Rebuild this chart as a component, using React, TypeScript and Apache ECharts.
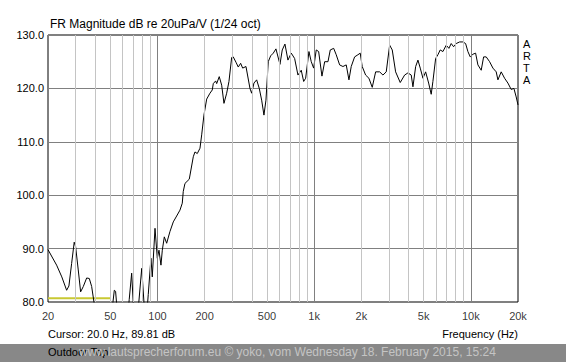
import React, { useEffect, useRef } from "react";
import * as echarts from "echarts";

const freqs = [
  20, 22.7, 24.5, 26.3, 27.2, 28.3, 29.4, 30.0, 31.2, 32.3, 33.6, 35.3, 36.7, 38.0, 39.3,
  41, 45, 49, 51.5, 53, 54, 56.2, 60, 64, 66, 68.4, 71.1, 74, 76, 79.3, 83.2, 85.5, 87.3,
  90.8, 92.6, 96.4, 99.7, 102.2, 105.2, 107.3, 110.5, 114.4, 120.1, 126.1, 132.5, 139.1,
  143.9, 146, 149.7, 159.5, 169.2, 173.4, 179.4, 186.7, 191.4, 197.9, 206, 216.2, 223.6,
  227, 235.1, 238.6, 247.8, 256.8, 265.6, 276.4, 285.8, 297.4, 304.4, 316.8, 327.7, 339.4,
  349.6, 367, 389.2, 399, 412.7, 429.4, 446.2, 462.2, 478, 492.3, 509.2, 527.6, 548.2,
  570.2, 604.8, 625.6, 650.8, 680.2, 714, 750.4, 787.8, 827, 856.8, 882.2, 926, 958, 992.2,
  1031, 1068, 1121, 1167, 1225, 1267, 1332, 1383, 1454, 1526, 1602, 1667, 1724, 1812, 1902,
  1968, 2026, 2130, 2236, 2348, 2468, 2618, 2748, 2884, 3032, 3150, 3310, 3542, 3778, 3966,
  4164, 4270, 4444, 4596, 4754, 4946, 5146, 5378, 5586, 5726, 5960, 6164, 6376, 6634, 6964,
  7244, 7494, 7762, 8064, 8480, 8900, 9260, 9578, 9910, 10310, 10726, 11096, 11648, 12066,
  12536, 13176, 13832, 14520, 14886, 15626, 16426, 17242, 18098, 18828, 19478, 20000,
];

const magnitudeDb = [
  89.8, 86.9, 84.7, 82.2, 83.0, 87.2, 91.2, 90.4, 86.0, 81.9, 82.9, 84.5, 84.4, 82.9, 80.0,
  76, 72, 74, 79, 82.2, 82.0, 76, 72, 76, 80.5, 85.4, 76, 77, 80, 86.3, 77, 78, 81.4,
  88.2, 84.7, 93.8, 88.2, 89.7, 86.9, 89.7, 92.2, 91.0, 93.2, 95.0, 96.1, 97.2,
  98.5, 100.7, 102.2, 103.0, 107.2, 108.1, 107.8, 108.8, 111.3, 115.0, 118.0, 119.1, 119.7,
  120.9, 121.4, 120.9, 122.2, 120.6, 117.2, 119.1, 121.3, 125.8, 125.9, 124.9, 124.0, 124.7,
  123.8, 124.1, 120.0, 119.1, 121.0, 121.6, 120.0, 117.8, 115.0, 117.8, 125.0, 126.1, 126.6,
  127.4, 124.5, 127.2, 128.3, 125.3, 126.6, 125.6, 122.5, 123.4, 121.3, 121.9, 126.9, 125.0, 123.8,
  127.2, 126.9, 122.3, 125.0, 125.0, 127.2, 127.5, 126.3, 124.4, 124.1, 124.4, 121.6, 124.1, 125.9, 126.3,
  126.6, 124.1, 122.5, 121.9, 120.2, 123.1, 123.1, 122.5, 123.1, 128.1, 127.2, 123.1, 121.1, 122.5, 122.9,
  122.5, 120.3, 124.1, 125.3, 123.8, 121.9, 123.1, 121.0, 118.9, 121.3, 125.6, 126.3, 127.2, 126.9, 128.1,
  127.5, 128.4, 127.8, 128.4, 128.7, 128.7, 128.4, 126.9, 125.9, 126.4, 126.6, 124.4, 123.4, 125.9,
  125.9, 125.0, 123.8, 123.1, 121.6, 123.1, 121.9, 121.0, 119.8, 120.0, 118.4, 116.9,
];

const referenceFreqs = [20, 50];
const referenceDb = [80.7, 80.7];

const xTickValues = [20, 50, 100, 200, 500, 1000, 2000, 5000, 10000, 20000];
const xTickLabels = ["20", "50", "100", "200", "500", "1k", "2k", "5k", "10k", "20k"];
const majorGridFreqs = [100, 1000, 10000];
const minorGridFreqs = [
  30, 40, 50, 60, 70, 80, 90, 200, 300, 400, 500, 600, 700, 800, 900,
  2000, 3000, 4000, 5000, 6000, 7000, 8000, 9000,
];

const titleText = "FR Magnitude dB re 20uPa/V (1/24 oct)";
const cursorText = "Cursor: 20.0 Hz, 89.81 dB";
const xAxisName = "Frequency (Hz)";
const brandLetters = ["A", "R", "T", "A"];
const noteText = "Outdoor Top";
const watermarkText = "www.lautsprecherforum.eu \u00a9 yoko, vom Wednesday 18. February 2015, 15:24";

const FONT = "Liberation Sans, Arial, sans-serif";

export default function App() {
  const ref = useRef<HTMLDivElement>(null);

  useEffect(() => {
    document.body.style.margin = "0";
    if (!ref.current) return;
    const chart = echarts.init(ref.current, null, { renderer: "svg" });

    const curve = freqs.map((f, i) => [f, magnitudeDb[i]]);
    const refLine = referenceFreqs.map((f, i) => [f, referenceDb[i]]);
    const tickPts = xTickValues.map((f, i) => ({ value: [f, 80], label: xTickLabels[i] }));

    chart.setOption({
      animation: false,
      backgroundColor: "#ffffff",
      grid: {
        left: 48,
        right: 48,
        top: 35,
        bottom: 60,
        show: true,
        borderColor: "#000000",
        borderWidth: 1,
        backgroundColor: "#ffffff",
      },
      xAxis: {
        type: "log",
        logBase: 10,
        min: 20,
        max: 20000,
        axisLine: { show: false },
        axisTick: { show: false },
        axisLabel: { show: false },
        splitLine: { show: false },
      },
      yAxis: {
        type: "value",
        min: 80,
        max: 130,
        interval: 10,
        axisLine: { show: false },
        axisTick: { show: false },
        axisLabel: {
          formatter: (v: number) => v.toFixed(1),
          color: "#000000",
          fontFamily: FONT,
          fontSize: 11,
          margin: 4,
        },
        splitLine: { show: true, lineStyle: { color: "#808080", width: 1 } },
      },
      series: [
        {
          type: "line",
          data: [],
          silent: true,
          markLine: {
            silent: true,
            symbol: ["none", "none"],
            label: { show: false },
            lineStyle: { color: "#c4c4c4", type: "solid", width: 1 },
            data: minorGridFreqs.map((f) => ({ xAxis: f })),
          },
          z: 1,
        },
        {
          type: "line",
          data: [],
          silent: true,
          markLine: {
            silent: true,
            symbol: ["none", "none"],
            label: { show: false },
            lineStyle: { color: "#808080", type: "solid", width: 1 },
            data: majorGridFreqs.map((f) => ({ xAxis: f })),
          },
          z: 2,
        },
        {
          type: "line",
          data: refLine,
          showSymbol: false,
          lineStyle: { color: "#c8c832", width: 2 },
          z: 3,
          silent: true,
        },
        {
          type: "line",
          data: curve,
          showSymbol: false,
          clip: true,
          lineStyle: { color: "#000000", width: 1 },
          z: 4,
          silent: true,
        },
        {
          type: "scatter",
          data: tickPts,
          symbolSize: 0,
          silent: true,
          clip: false,
          label: {
            show: true,
            position: "bottom",
            distance: 8,
            formatter: (p: any) => p.data.label,
            color: "#000000",
            fontFamily: FONT,
            fontSize: 11,
          },
        },
      ],
      graphic: [
        {
          type: "text",
          left: 50,
          top: 18,
          style: { text: titleText, fill: "#000", font: `12px ${FONT}` },
        },
        ...brandLetters.map((ch, i) => ({
          type: "text",
          left: 523,
          top: 38 + i * 12,
          style: { text: ch, fill: "#000", font: `11px ${FONT}` },
        })),
        {
          type: "text",
          left: 48,
          top: 328,
          style: { text: cursorText, fill: "#000", font: `11px ${FONT}` },
        },
        {
          type: "text",
          right: 48,
          top: 328,
          style: { text: xAxisName, fill: "#000", font: `11px ${FONT}` },
        },
        {
          type: "rect",
          shape: { x: 0, y: 344, width: 566, height: 18 },
          style: { fill: "#888888" },
          z: 10,
        },
        {
          type: "text",
          left: 48,
          top: 346,
          style: { text: noteText, fill: "#000", font: `11px ${FONT}` },
          z: 11,
        },
        {
          type: "text",
          left: 79,
          top: 346,
          style: { text: watermarkText, fill: "#c4c4c4", font: `12px ${FONT}` },
          z: 12,
        },
      ],
    });

    return () => chart.dispose();
  }, []);

  return <div ref={ref} style={{ width: 566, height: 362 }} />;
}
